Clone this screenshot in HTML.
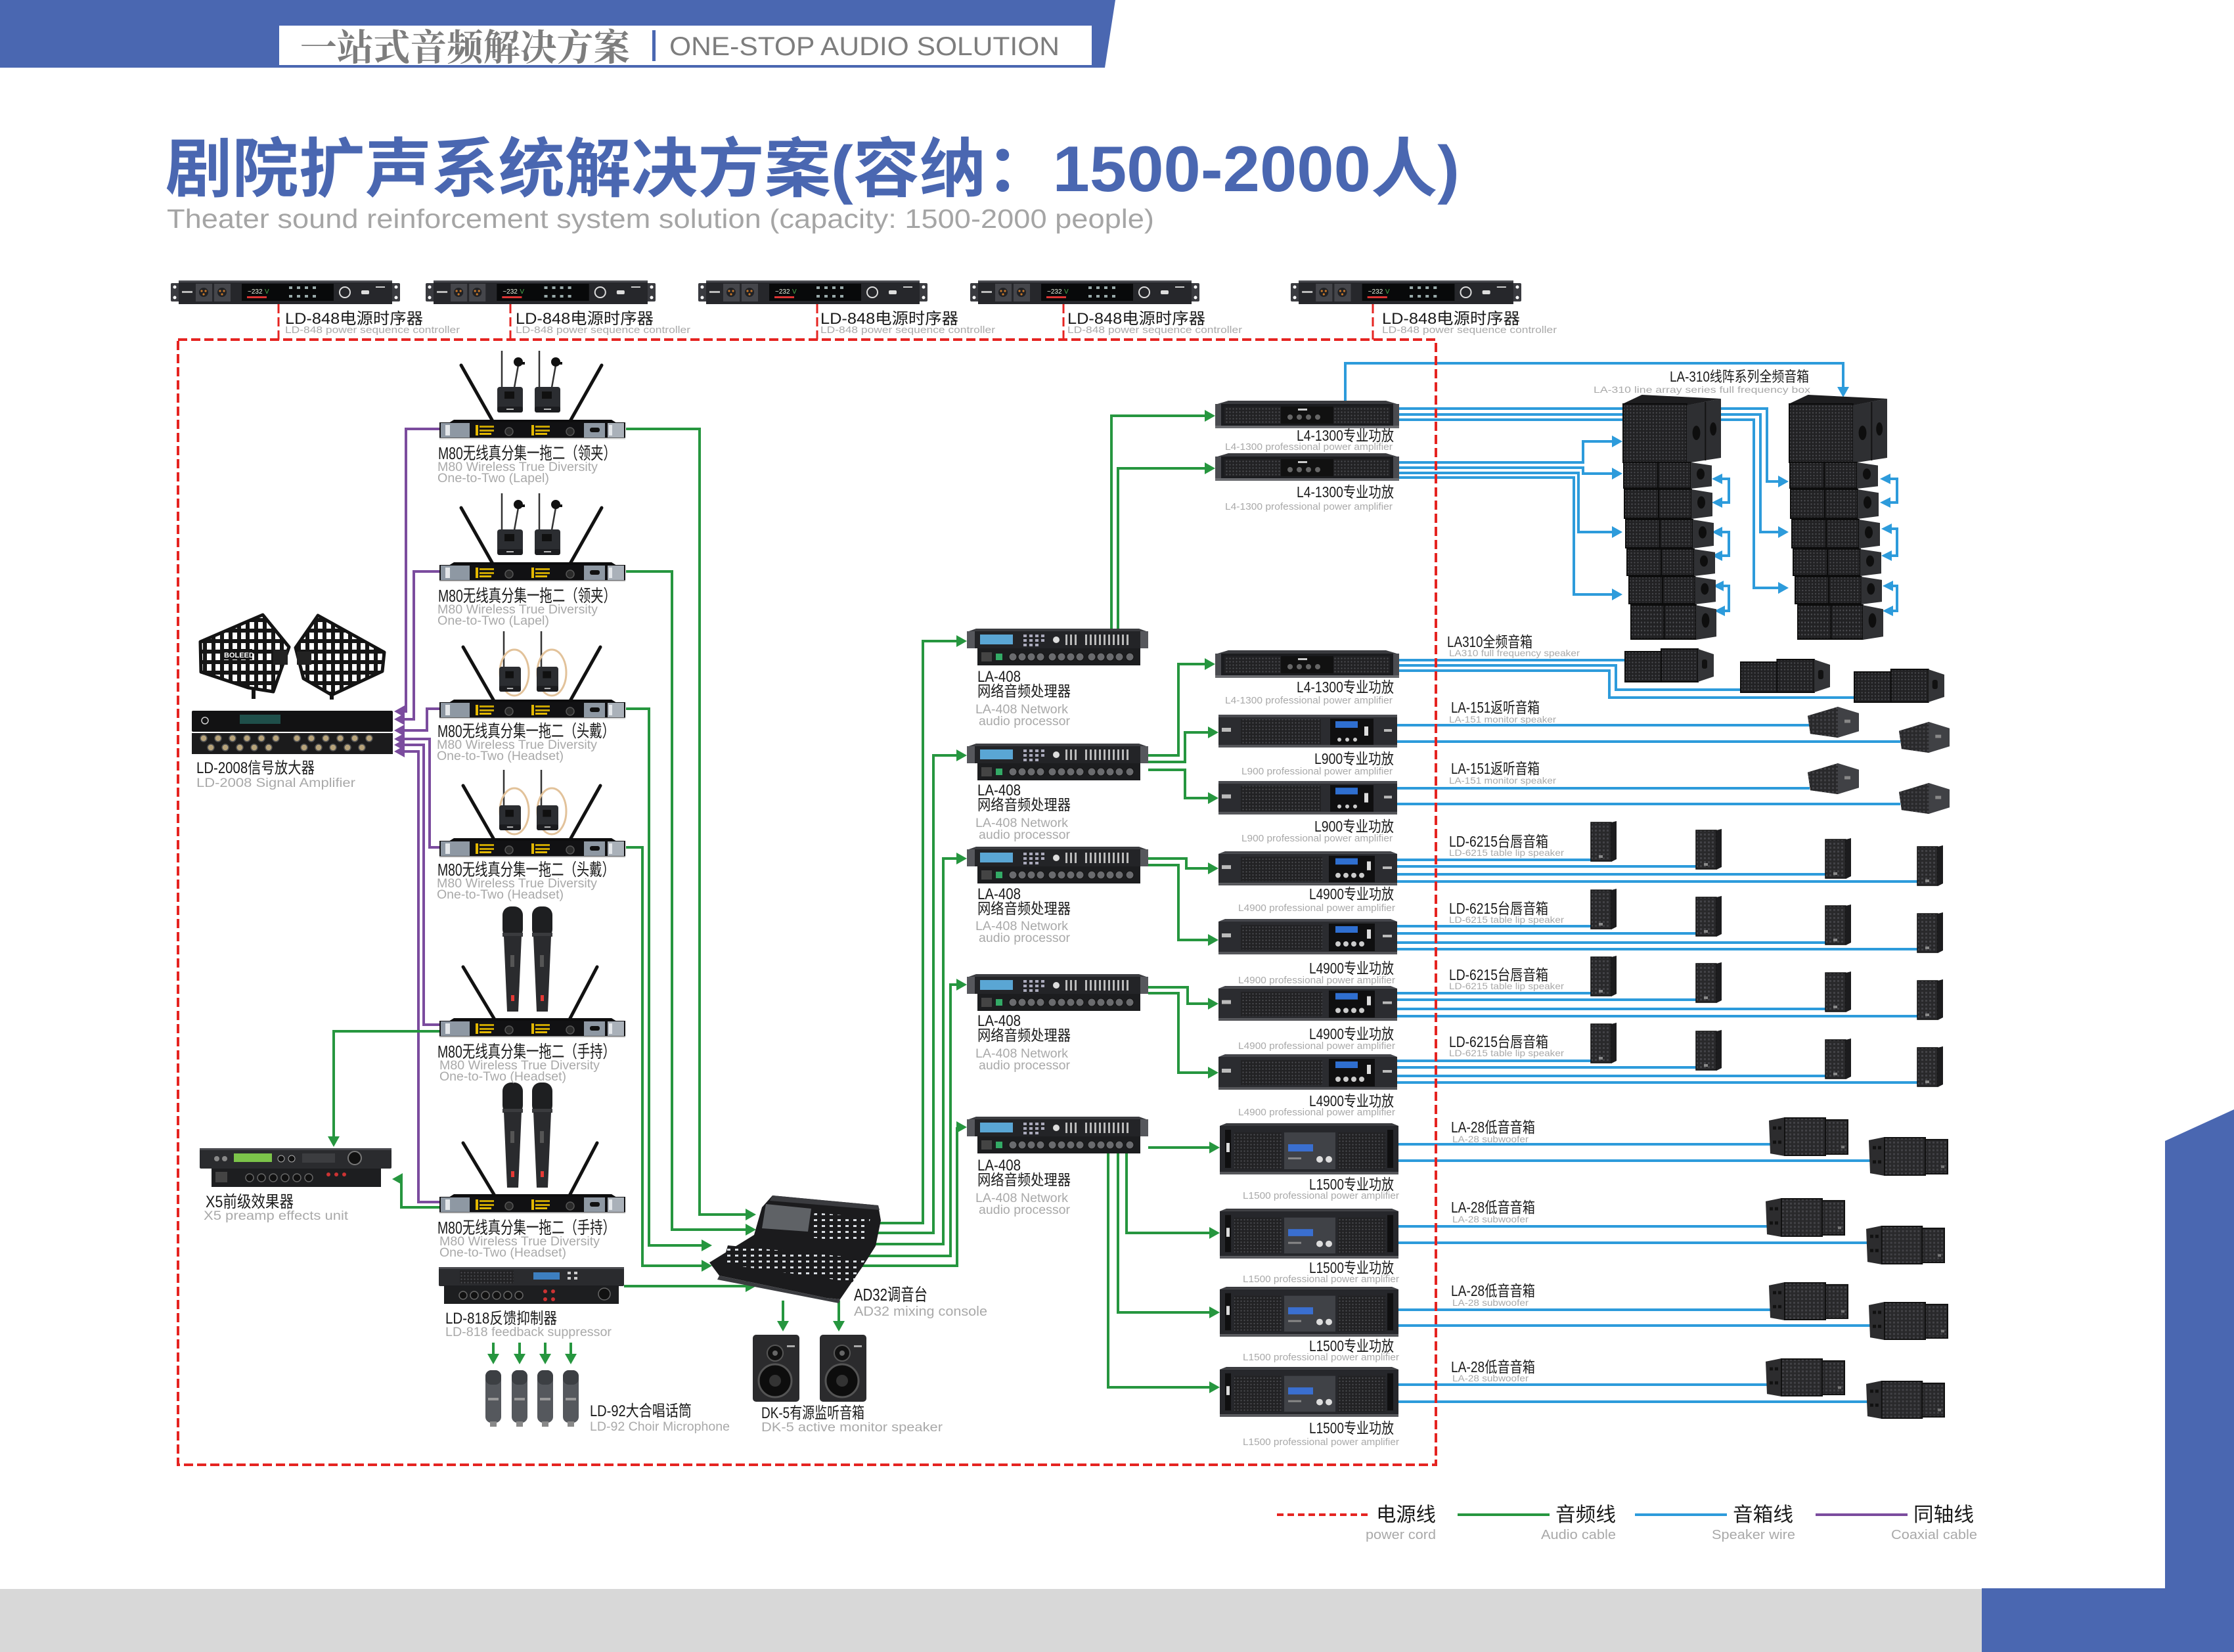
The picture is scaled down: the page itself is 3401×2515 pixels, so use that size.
<!DOCTYPE html>
<html><head><meta charset="utf-8">
<style>
html,body{margin:0;padding:0;background:#fff;}
body{width:3401px;height:2515px;overflow:hidden;position:relative;}
svg{position:absolute;left:0;top:0;}
.cn{font-family:"Liberation Sans","Noto Sans CJK SC",sans-serif;fill:#1a1a1a;}
.en{font-family:"Liberation Sans",sans-serif;fill:#a9a9a9;}
.g{fill:none;stroke:#26963f;stroke-width:4;}
.p{fill:none;stroke:#7b4c9e;stroke-width:4;}
.b{fill:none;stroke:#2d9bdb;stroke-width:4;}
.ga{fill:#26963f;}.pa{fill:#7b4c9e;}.ba{fill:#2d9bdb;}
</style></head><body>
<svg width="3401" height="2515" viewBox="0 0 3401 2515" xmlns="http://www.w3.org/2000/svg">
<defs>
<pattern id="gr" width="5" height="5" patternUnits="userSpaceOnUse"><rect width="5" height="5" fill="#222224"/><circle cx="2.5" cy="2.5" r="1.1" fill="#4d4e52"/></pattern>
<pattern id="gr2" width="6" height="6" patternUnits="userSpaceOnUse"><rect width="6" height="6" fill="#29292b"/><rect x="1" y="1" width="3" height="3" fill="#424246"/></pattern>
<pattern id="antp" width="13" height="16" patternUnits="userSpaceOnUse"><rect width="13" height="16" fill="#161616"/><rect x="3" y="3" width="7" height="10" fill="#fff"/></pattern>
<pattern id="fad" width="12" height="9" patternUnits="userSpaceOnUse"><rect width="12" height="9" fill="#1b1b1d"/><rect x="3" y="2" width="5" height="3" fill="#d9dde2"/></pattern>

<symbol id="ld848" viewBox="0 0 349 36" preserveAspectRatio="none">
 <rect x="0" y="4" width="349" height="28" rx="2" fill="#3a3b40"/>
 <rect x="12" y="0" width="325" height="36" fill="#26272b"/>
 <rect x="12" y="0" width="325" height="3" fill="#48494e"/>
 <circle cx="6" cy="10" r="2.5" fill="#fff"/><circle cx="6" cy="26" r="2.5" fill="#fff"/><circle cx="343" cy="10" r="2.5" fill="#fff"/><circle cx="343" cy="26" r="2.5" fill="#fff"/>
 <rect x="17" y="16" width="16" height="3" fill="#bbb"/>
 <rect x="38" y="5" width="25" height="27" fill="#45464b"/><rect x="66" y="5" width="25" height="27" fill="#45464b"/>
 <circle cx="50" cy="18" r="7" fill="#202124"/><circle cx="78" cy="18" r="7" fill="#202124"/>
 <circle cx="47" cy="16" r="1.6" fill="#c7772a"/><circle cx="53" cy="16" r="1.6" fill="#c7772a"/><circle cx="50" cy="21" r="1.6" fill="#c7772a"/>
 <circle cx="75" cy="16" r="1.6" fill="#c7772a"/><circle cx="81" cy="16" r="1.6" fill="#c7772a"/><circle cx="78" cy="21" r="1.6" fill="#c7772a"/>
 <rect x="108" y="5" width="140" height="26" fill="#08090a"/>
 <text x="117" y="20" font-size="10" fill="#e8f0e0" font-family="Liberation Sans">~232</text><text x="143" y="20" font-size="10" fill="#4caf50" font-family="Liberation Sans">V</text>
 <rect x="116" y="24" width="30" height="3" fill="#d33"/>
 <rect x="180" y="9" width="5" height="4" fill="#9aa"/><rect x="192" y="9" width="5" height="4" fill="#9aa"/><rect x="204" y="9" width="5" height="4" fill="#9aa"/><rect x="216" y="9" width="5" height="4" fill="#9aa"/>
 <rect x="180" y="22" width="5" height="4" fill="#9aa"/><rect x="192" y="22" width="5" height="4" fill="#9aa"/><rect x="204" y="22" width="5" height="4" fill="#9aa"/><rect x="216" y="22" width="5" height="4" fill="#9aa"/>
 <circle cx="265" cy="18" r="8" fill="none" stroke="#ddd" stroke-width="2"/>
 <rect x="290" y="15" width="12" height="6" rx="2" fill="#ddd"/>
 <rect x="312" y="9" width="14" height="2" fill="#ccc"/>
</symbol>

<symbol id="m80" viewBox="0 0 283 30" preserveAspectRatio="none">
 <polygon points="22,0 262,0 270,5 14,5" fill="#0d0d0e"/>
 <rect x="0" y="4" width="283" height="24" fill="#111113"/>
 <rect x="2" y="5" width="44" height="22" fill="#8e98a3"/>
 <rect x="9" y="8" width="7" height="16" fill="#e4e7ea"/>
 <rect x="220" y="5" width="32" height="22" fill="#8e98a3"/>
 <rect x="229" y="12" width="15" height="7" rx="3" fill="#111"/>
 <rect x="256" y="5" width="25" height="22" fill="#aab1b9"/>
 <rect x="258" y="8" width="5" height="16" fill="#e4e7ea"/>
 <rect x="55" y="8" width="4" height="16" fill="#e3b800"/>
 <rect x="61" y="9" width="22" height="3" fill="#c9a400"/><rect x="61" y="15" width="22" height="3" fill="#c9a400"/><rect x="61" y="20" width="18" height="3" fill="#e3b800"/>
 <circle cx="106" cy="18" r="6" fill="#2a2a2a" stroke="#555" stroke-width="1.5"/>
 <rect x="140" y="8" width="4" height="16" fill="#e3b800"/>
 <rect x="146" y="9" width="22" height="3" fill="#c9a400"/><rect x="146" y="15" width="22" height="3" fill="#c9a400"/><rect x="146" y="20" width="18" height="3" fill="#e3b800"/>
 <circle cx="199" cy="18" r="6" fill="#2a2a2a" stroke="#555" stroke-width="1.5"/>
 <rect x="0" y="27" width="283" height="3" fill="#bbb" opacity=".45"/>
</symbol>

<symbol id="la408" viewBox="0 0 276 56" preserveAspectRatio="none">
 <polygon points="14,0 262,0 276,5 0,5" fill="#3b3c40"/>
 <rect x="0" y="4" width="276" height="26" fill="#232427"/>
 <rect x="0" y="4" width="12" height="26" fill="#56575c"/><rect x="264" y="4" width="12" height="26" fill="#56575c"/>
 <rect x="20" y="9" width="50" height="15" fill="#5aa6d4"/>
 <rect x="86" y="9" width="5" height="4" fill="#aab"/><rect x="95" y="9" width="5" height="4" fill="#aab"/><rect x="104" y="9" width="5" height="4" fill="#aab"/><rect x="113" y="9" width="5" height="4" fill="#aab"/>
 <rect x="86" y="16" width="5" height="4" fill="#aab"/><rect x="95" y="16" width="5" height="4" fill="#aab"/><rect x="104" y="16" width="5" height="4" fill="#aab"/><rect x="113" y="16" width="5" height="4" fill="#aab"/>
 <rect x="86" y="23" width="5" height="4" fill="#aab"/><rect x="95" y="23" width="5" height="4" fill="#aab"/><rect x="104" y="23" width="5" height="4" fill="#aab"/>
 <circle cx="136" cy="17" r="5" fill="#ddd"/>
 <rect x="150" y="9" width="3" height="16" fill="#bbb"/><rect x="157" y="9" width="3" height="16" fill="#bbb"/><rect x="164" y="9" width="3" height="16" fill="#bbb"/>
 <rect x="180" y="9" width="3" height="16" fill="#bbb"/><rect x="187" y="9" width="3" height="16" fill="#bbb"/><rect x="194" y="9" width="3" height="16" fill="#bbb"/><rect x="201" y="9" width="3" height="16" fill="#bbb"/><rect x="208" y="9" width="3" height="16" fill="#bbb"/><rect x="215" y="9" width="3" height="16" fill="#bbb"/><rect x="222" y="9" width="3" height="16" fill="#bbb"/><rect x="229" y="9" width="3" height="16" fill="#bbb"/><rect x="236" y="9" width="3" height="16" fill="#bbb"/><rect x="243" y="9" width="3" height="16" fill="#bbb"/>
 <rect x="16" y="30" width="248" height="26" fill="#1c1d1f"/>
 <rect x="22" y="36" width="16" height="14" fill="#444"/>
 <rect x="44" y="38" width="10" height="10" fill="#3a6"/>
 <circle cx="70" cy="43" r="6" fill="#6a6b6e" stroke="#111"/><circle cx="84" cy="43" r="6" fill="#6a6b6e" stroke="#111"/><circle cx="98" cy="43" r="6" fill="#6a6b6e" stroke="#111"/><circle cx="112" cy="43" r="6" fill="#6a6b6e" stroke="#111"/><circle cx="130" cy="43" r="6" fill="#6a6b6e" stroke="#111"/><circle cx="144" cy="43" r="6" fill="#6a6b6e" stroke="#111"/><circle cx="158" cy="43" r="6" fill="#6a6b6e" stroke="#111"/><circle cx="172" cy="43" r="6" fill="#6a6b6e" stroke="#111"/><circle cx="190" cy="43" r="6" fill="#6a6b6e" stroke="#111"/><circle cx="204" cy="43" r="6" fill="#6a6b6e" stroke="#111"/><circle cx="218" cy="43" r="6" fill="#6a6b6e" stroke="#111"/><circle cx="232" cy="43" r="6" fill="#6a6b6e" stroke="#111"/><circle cx="248" cy="43" r="6" fill="#6a6b6e" stroke="#111"/>
</symbol>

<symbol id="l41300" viewBox="0 0 280 42" preserveAspectRatio="none">
 <polygon points="20,0 260,0 280,6 0,6" fill="#3a3b3f"/>
 <rect x="0" y="5" width="280" height="34" fill="#1b1c1f"/>
 <rect x="0" y="5" width="9" height="34" fill="#4a4b50"/><rect x="271" y="5" width="9" height="34" fill="#4a4b50"/>
 <rect x="14" y="9" width="86" height="26" fill="url(#gr)"/>
 <rect x="180" y="9" width="86" height="26" fill="url(#gr)"/>
 <rect x="100" y="9" width="80" height="26" fill="#111"/>
 <circle cx="114" cy="25" r="4" fill="#666"/><circle cx="128" cy="25" r="4" fill="#666"/><circle cx="142" cy="25" r="4" fill="#666"/><circle cx="156" cy="25" r="4" fill="#666"/>
 <rect x="126" y="12" width="14" height="3" fill="#ccc"/>
 <rect x="0" y="38" width="280" height="4" fill="#6b6c70"/>
</symbol>

<symbol id="l900" viewBox="0 0 272 50" preserveAspectRatio="none">
 <rect x="0" y="0" width="272" height="50" fill="#2b2c30"/>
 <rect x="0" y="0" width="272" height="4" fill="#4a4b50"/>
 <rect x="5" y="20" width="14" height="6" fill="#bbb"/>
 <rect x="34" y="7" width="122" height="38" fill="url(#gr)"/>
 <rect x="170" y="6" width="66" height="40" fill="#0f0f10"/>
 <rect x="178" y="10" width="34" height="10" fill="#2f6fd0"/>
 <circle cx="184" cy="38" r="3" fill="#ccc"/><circle cx="196" cy="38" r="3" fill="#ccc"/><circle cx="208" cy="38" r="3" fill="#ccc"/>
 <rect x="222" y="18" width="6" height="14" fill="#ddd"/>
 <rect x="252" y="22" width="12" height="4" fill="#bbb"/>
 <rect x="0" y="46" width="272" height="4" fill="#55565a"/>
</symbol>

<symbol id="l4900" viewBox="0 0 272 54" preserveAspectRatio="none">
 <polygon points="10,0 262,0 272,4 0,4" fill="#45464b"/>
 <rect x="0" y="4" width="272" height="46" fill="#2b2c30"/>
 <rect x="5" y="22" width="14" height="6" fill="#bbb"/>
 <rect x="34" y="9" width="124" height="38" fill="url(#gr)"/>
 <rect x="168" y="7" width="70" height="42" fill="#0f0f10"/>
 <rect x="178" y="11" width="34" height="10" fill="#2f6fd0"/>
 <circle cx="182" cy="38" r="4" fill="#ccc"/><circle cx="194" cy="38" r="4" fill="#ccc"/><circle cx="206" cy="38" r="4" fill="#ccc"/><circle cx="218" cy="38" r="4" fill="#ccc"/>
 <rect x="226" y="16" width="6" height="14" fill="#ddd"/>
 <rect x="250" y="24" width="14" height="4" fill="#bbb"/>
 <rect x="0" y="50" width="272" height="4" fill="#55565a"/>
</symbol>

<symbol id="l1500" viewBox="0 0 272 78" preserveAspectRatio="none">
 <polygon points="10,0 262,0 272,4 0,4" fill="#3a3b3f"/>
 <rect x="0" y="4" width="272" height="70" fill="#26272b"/>
 <rect x="8" y="10" width="9" height="58" fill="#0f0f10"/><rect x="255" y="10" width="9" height="58" fill="#0f0f10"/>
 <rect x="10" y="30" width="5" height="14" fill="#ddd"/>
 <rect x="22" y="14" width="72" height="56" fill="url(#gr)"/>
 <rect x="180" y="14" width="72" height="56" fill="url(#gr)"/>
 <rect x="98" y="14" width="78" height="56" fill="#404247"/>
 <rect x="104" y="32" width="38" height="11" fill="#3a6fd0"/>
 <circle cx="152" cy="55" r="5" fill="#ddd"/><circle cx="166" cy="55" r="5" fill="#ddd"/>
 <rect x="104" y="52" width="20" height="3" fill="#888"/>
 <rect x="0" y="74" width="272" height="4" fill="#55565a"/>
</symbol>

<symbol id="latop" viewBox="0 0 152 104" preserveAspectRatio="none">
 <polygon points="0,14 30,0 152,6 100,16" fill="#1d1d1f"/>
 <rect x="1" y="14" width="98" height="90" fill="url(#gr)" stroke="#0c0c0c" stroke-width="2"/>
 <polygon points="99,16 152,6 152,96 99,104" fill="#2e2f32"/>
 <line x1="128" y1="11" x2="128" y2="100" stroke="#141414" stroke-width="2"/>
 <ellipse cx="114" cy="58" rx="6" ry="11" fill="#0e0e0e"/>
 <ellipse cx="140" cy="52" rx="5" ry="10" fill="#0e0e0e"/>
</symbol>
<symbol id="labx" viewBox="0 0 136 44" preserveAspectRatio="none">
 <rect x="1" y="1" width="52" height="42" fill="url(#gr)" stroke="#0c0c0c" stroke-width="2"/>
 <rect x="53" y="1" width="50" height="42" fill="url(#gr)" stroke="#0c0c0c" stroke-width="2"/>
 <polygon points="103,1 135,6 135,40 103,44" fill="#303134"/>
 <ellipse cx="118" cy="20" rx="6" ry="9" fill="#0e0e0e"/>
</symbol>
<symbol id="la310" viewBox="0 0 136 54" preserveAspectRatio="none">
 <rect x="1" y="6" width="55" height="46" fill="url(#gr)" stroke="#0c0c0c" stroke-width="2"/>
 <rect x="56" y="2" width="56" height="50" fill="url(#gr)" stroke="#0c0c0c" stroke-width="2"/>
 <polygon points="112,2 136,10 136,44 112,52" fill="#333437"/>
 <rect x="118" y="18" width="8" height="14" rx="3" fill="#111"/>
</symbol>
<symbol id="mon" viewBox="0 0 78 48" preserveAspectRatio="none">
 <polygon points="0,14 46,0 78,10 78,38 46,48 4,42" fill="#404145"/>
 <polygon points="0,14 46,0 46,48 4,42" fill="url(#gr2)"/>
 <rect x="56" y="20" width="9" height="5" fill="#888"/>
</symbol>
<symbol id="lip" viewBox="0 0 40 62" preserveAspectRatio="none">
 <rect x="1" y="2" width="31" height="59" fill="url(#gr2)" stroke="#111" stroke-width="1.5"/>
 <polygon points="32,2 40,0 40,58 32,62" fill="#1c1c1e"/>
 <rect x="13" y="52" width="6" height="4" fill="#888"/>
</symbol>
<symbol id="sub" viewBox="0 0 121 60" preserveAspectRatio="none">
 <polygon points="0,5 24,0 24,60 2,56" fill="#2c2c2e"/>
 <rect x="6" y="14" width="5" height="5" fill="#111"/><rect x="14" y="14" width="5" height="5" fill="#111"/><rect x="6" y="36" width="5" height="5" fill="#111"/><rect x="14" y="36" width="5" height="5" fill="#111"/>
 <rect x="24" y="1" width="62" height="58" fill="url(#gr2)" stroke="#111" stroke-width="2"/>
 <rect x="86" y="4" width="34" height="53" fill="url(#gr2)" stroke="#111" stroke-width="2"/>
 <rect x="110" y="44" width="5" height="4" fill="#777"/>
</symbol>
<symbol id="dk5" viewBox="0 0 71 102" preserveAspectRatio="none">
 <rect x="0" y="0" width="71" height="102" rx="5" fill="#2b2b2d"/>
 <circle cx="34" cy="28" r="12" fill="#111" stroke="#555" stroke-width="2"/>
 <circle cx="34" cy="28" r="4" fill="#666"/>
 <circle cx="34" cy="70" r="25" fill="#0d0d0d" stroke="#555" stroke-width="3"/>
 <circle cx="34" cy="70" r="9" fill="#333"/>
 <rect x="52" y="16" width="12" height="3" fill="#aaa"/>
</symbol>
<symbol id="lapelpack" viewBox="0 0 39 39" preserveAspectRatio="none">
 <rect x="0" y="0" width="39" height="39" rx="4" fill="#2b2d31"/>
 <rect x="0" y="30" width="39" height="9" rx="3" fill="#1b1c1f"/>
 <rect x="11" y="7" width="15" height="11" fill="#101010"/>
 <rect x="14" y="33" width="11" height="2" fill="#bbb"/>
</symbol>
<symbol id="hmic" viewBox="0 0 31 160" preserveAspectRatio="none">
 <rect x="0" y="0" width="31" height="48" rx="13" fill="#1e1f21"/>
 <rect x="0" y="40" width="31" height="6" fill="#3a3b3e"/>
 <polygon points="2,45 29,45 24,160 7,160" fill="#2a2b2e"/>
 <rect x="12" y="74" width="6" height="18" fill="#555"/>
 <rect x="13" y="135" width="5" height="9" fill="#e53935"/>
</symbol>
</defs>

<!-- header -->
<polygon points="0,0 1698,0 1682,103 0,103" fill="#4a67b1"/>
<rect x="425" y="39" width="1237" height="60" fill="#fff"/>
<text x="457" y="92" font-family="'Noto Serif CJK SC','Liberation Serif',serif" font-weight="700" font-size="56" fill="#7d7d7d" textLength="502" lengthAdjust="spacingAndGlyphs">一站式音频解决方案</text>
<rect x="993" y="46" width="5" height="47" fill="#4a67b1"/>
<text x="1019" y="84" font-family="'Liberation Sans',sans-serif" font-size="40" fill="#7d7d7d" textLength="594" lengthAdjust="spacingAndGlyphs">ONE-STOP AUDIO SOLUTION</text>

<!-- title -->
<text x="252" y="291" font-family="'Liberation Sans','Noto Sans CJK SC',sans-serif" font-weight="700" font-size="98" fill="#4a67b1" textLength="1970" lengthAdjust="spacingAndGlyphs">剧院扩声系统解决方案(容纳：1500-2000人)</text>
<text x="254" y="347" font-family="'Liberation Sans',sans-serif" font-size="41" fill="#a5a5a5" textLength="1503" lengthAdjust="spacingAndGlyphs">Theater sound reinforcement system solution (capacity: 1500-2000 people)</text>

<!-- power sequencers -->
<use href="#ld848" x="260" y="427" width="349" height="36"/>
<use href="#ld848" x="648" y="427" width="350" height="36"/>
<use href="#ld848" x="1063" y="427" width="349" height="36"/>
<use href="#ld848" x="1477" y="427" width="349" height="36"/>
<use href="#ld848" x="1965" y="427" width="351" height="36"/>
<g stroke="#e52421" stroke-width="3" stroke-dasharray="14 6" fill="none">
<path d="M424 463V517M777 463V517M1244 463V517M1619 463V517M2090 463V517"/>
</g>
<g class="cn" font-size="24">
<text x="434" y="493" textLength="210" lengthAdjust="spacingAndGlyphs">LD-848电源时序器</text>
<text x="785" y="493" textLength="210" lengthAdjust="spacingAndGlyphs">LD-848电源时序器</text>
<text x="1249" y="493" textLength="210" lengthAdjust="spacingAndGlyphs">LD-848电源时序器</text>
<text x="1625" y="493" textLength="210" lengthAdjust="spacingAndGlyphs">LD-848电源时序器</text>
<text x="2104" y="493" textLength="210" lengthAdjust="spacingAndGlyphs">LD-848电源时序器</text>
</g>
<g class="en" font-size="15">
<text x="434" y="507" textLength="266" lengthAdjust="spacingAndGlyphs">LD-848 power sequence controller</text>
<text x="785" y="507" textLength="266" lengthAdjust="spacingAndGlyphs">LD-848 power sequence controller</text>
<text x="1249" y="507" textLength="266" lengthAdjust="spacingAndGlyphs">LD-848 power sequence controller</text>
<text x="1625" y="507" textLength="266" lengthAdjust="spacingAndGlyphs">LD-848 power sequence controller</text>
<text x="2104" y="507" textLength="266" lengthAdjust="spacingAndGlyphs">LD-848 power sequence controller</text>
</g>

<!-- ===== connection lines ===== -->
<path class="p" d="M669 653H618V1083H614M669 870H630V1095H614M669 1079H650V1112H614M669 1290H654V1125H614M669 1560H645V1134H614M669 1830H637V1144H614"/>
<g class="pa">
<polygon points="600,1083 616,1074 616,1092"/><polygon points="600,1095 616,1086 616,1104"/><polygon points="600,1112 616,1103 616,1121"/><polygon points="600,1125 616,1116 616,1134"/><polygon points="600,1134 616,1125 616,1143"/><polygon points="600,1144 616,1135 616,1153"/>
</g>
<path class="g" d="M953 653H1065V1849H1137M953 870H1023V1872H1137M953 1079H988V1896H1070M953 1290H978V1927H1070M669 1570H508V1732M669 1838H611V1795H611M950 1958H1137M751 2044V2063M791 2044V2063M830 2044V2063M869 2044V2063M1338 1862H1405V976H1458M1336 1877H1421V1150H1458M1330 1894H1436V1307H1458M1318 1912H1447V1499H1458M1300 1927H1457V1716M1192 1980V2013M1277 1980V2013M1692 957V633H1836M1702 957V713H1836M1748 1150H1794V1011H1836M1748 1160H1804V1115H1841M1748 1172H1804V1215H1841M1748 1307H1806V1322H1841M1748 1317H1794V1431H1841M1748 1503H1808V1528H1841M1748 1512H1794V1633H1841M1748 1747H1843M1715 1756V1877H1843M1702 1756V1998H1843M1687 1756V2112H1843"/>
<g class="ga">
<polygon points="1151,1849 1135,1840 1135,1858"/><polygon points="1151,1872 1135,1863 1135,1881"/><polygon points="1084,1896 1068,1887 1068,1905"/><polygon points="1084,1927 1068,1918 1068,1936"/><polygon points="1151,1958 1135,1949 1135,1967"/>
<polygon points="1472,976 1456,967 1456,985"/><polygon points="1472,1150 1456,1141 1456,1159"/><polygon points="1472,1307 1456,1298 1456,1316"/><polygon points="1472,1499 1456,1490 1456,1508"/><polygon points="1472,1716 1456,1707 1456,1725"/>
<polygon points="1850,633 1834,624 1834,642"/><polygon points="1850,713 1834,704 1834,722"/><polygon points="1850,1011 1834,1002 1834,1020"/><polygon points="1855,1115 1839,1106 1839,1124"/><polygon points="1855,1215 1839,1206 1839,1224"/><polygon points="1855,1322 1839,1313 1839,1331"/><polygon points="1855,1431 1839,1422 1839,1440"/><polygon points="1855,1528 1839,1519 1839,1537"/><polygon points="1855,1633 1839,1624 1839,1642"/><polygon points="1857,1747 1841,1738 1841,1756"/><polygon points="1857,1877 1841,1868 1841,1886"/><polygon points="1857,1998 1841,1989 1841,2007"/><polygon points="1857,2112 1841,2103 1841,2121"/>
<polygon points="508,1746 499,1730 517,1730"/><polygon points="751,2077 742,2061 760,2061"/><polygon points="791,2077 782,2061 800,2061"/><polygon points="830,2077 821,2061 839,2061"/><polygon points="869,2077 860,2061 878,2061"/><polygon points="1192,2027 1183,2011 1201,2011"/><polygon points="1277,2027 1268,2011 1286,2011"/>
<polygon points="597,1795 613,1786 613,1804"/>
</g>
<path class="b" d="M2048 612V553H2806V591M2130 622H2690V733H2709M2130 631H2680V810H2709M2130 639H2670V895H2709M2130 704H2410V672H2456M2130 712H2410V721H2456M2130 720H2403V810H2456M2130 727H2396V905H2456M2620 729H2632V765H2620M2620 810H2632V846H2620M2620 892H2632V930H2620M2878 729H2888V765H2878M2878 805H2888V846H2878M2878 892H2888V930H2878M2130 1005H2475M2130 1013H2460V1050H2651M2130 1021H2450V1062H2824M2127 1104H2755M2127 1129H2893M2127 1200H2755M2127 1224H2893M2127 1309H2423M2127 1319H2583M2127 1331H2780M2127 1342H2920M2127 1410H2423M2127 1421H2583M2127 1435H2780M2127 1445H2920M2127 1512H2423M2127 1522H2583M2127 1536H2780M2127 1547H2920M2127 1615H2423M2127 1625H2583M2127 1638H2780M2127 1648H2920M2129 1742H2695M2129 1767H2847M2129 1867H2690M2129 1892H2843M2129 1994H2695M2129 2018H2847M2129 2108H2690M2129 2134H2843"/>
<g class="ba">
<polygon points="2806,605 2797,589 2815,589"/>
<polygon points="2723,733 2707,724 2707,742"/><polygon points="2723,810 2707,801 2707,819"/><polygon points="2723,895 2707,886 2707,904"/>
<polygon points="2470,672 2454,663 2454,681"/><polygon points="2470,721 2454,712 2454,730"/><polygon points="2470,810 2454,801 2454,819"/><polygon points="2470,905 2454,896 2454,914"/>
<polygon points="2606,729 2622,721 2622,737"/><polygon points="2606,765 2622,757 2622,773"/><polygon points="2606,810 2622,802 2622,818"/><polygon points="2606,846 2622,838 2622,854"/><polygon points="2608,892 2624,884 2624,900"/><polygon points="2610,930 2626,922 2626,938"/>
<polygon points="2862,729 2878,721 2878,737"/><polygon points="2862,765 2878,757 2878,773"/><polygon points="2864,805 2880,797 2880,813"/><polygon points="2864,846 2880,838 2880,854"/><polygon points="2866,892 2882,884 2882,900"/><polygon points="2866,930 2882,922 2882,938"/>
</g>

<!-- red dashed boundary -->
<rect x="271" y="517" width="1915" height="1713" fill="none" stroke="#e52421" stroke-width="4" stroke-dasharray="14 6"/>

<!-- ===== left devices ===== -->
<polygon points="305,977 400,936 440,985 416,1053 378,1047 306,1023" fill="url(#antp)" stroke="#141414" stroke-width="5" stroke-linejoin="round"/>
<polygon points="450,986 484,937 585,993 582,1022 505,1058 462,1033" fill="url(#antp)" stroke="#141414" stroke-width="5" stroke-linejoin="round"/>
<rect x="338" y="988" width="46" height="16" fill="#141414"/>
<text x="341" y="1001" font-family="'Liberation Sans',sans-serif" font-weight="700" font-size="11" fill="#fff">BOLEED</text>
<rect x="416" y="990" width="22" height="22" fill="#222"/>
<rect x="452" y="992" width="22" height="20" fill="#222"/>
<line x1="386" y1="1050" x2="386" y2="1064" stroke="#141414" stroke-width="6"/>
<line x1="505" y1="1056" x2="505" y2="1065" stroke="#141414" stroke-width="6"/>
<rect x="292" y="1082" width="306" height="32" rx="2" fill="#121213"/>
<rect x="365" y="1088" width="62" height="14" fill="#1f4f4a"/>
<circle cx="312" cy="1097" r="5" fill="none" stroke="#ccc" stroke-width="1.5"/>
<rect x="292" y="1116" width="306" height="32" fill="#1b1b1c"/>
<g fill="#b7a37a" stroke="#555" stroke-width="1.5">
<circle cx="310" cy="1124" r="5"/><circle cx="332" cy="1124" r="5"/><circle cx="354" cy="1124" r="5"/><circle cx="376" cy="1124" r="5"/><circle cx="398" cy="1124" r="5"/><circle cx="420" cy="1124" r="5"/><circle cx="452" cy="1124" r="5"/><circle cx="474" cy="1124" r="5"/><circle cx="496" cy="1124" r="5"/><circle cx="518" cy="1124" r="5"/><circle cx="540" cy="1124" r="5"/><circle cx="562" cy="1124" r="5"/>
<circle cx="321" cy="1138" r="5"/><circle cx="343" cy="1138" r="5"/><circle cx="365" cy="1138" r="5"/><circle cx="387" cy="1138" r="5"/><circle cx="409" cy="1138" r="5"/><circle cx="463" cy="1138" r="5"/><circle cx="485" cy="1138" r="5"/><circle cx="507" cy="1138" r="5"/><circle cx="529" cy="1138" r="5"/><circle cx="551" cy="1138" r="5"/>
</g>
<text class="cn" x="299" y="1177" font-size="24" textLength="180" lengthAdjust="spacingAndGlyphs">LD-2008信号放大器</text>
<text class="en" x="299" y="1198" font-size="19" textLength="242" lengthAdjust="spacingAndGlyphs">LD-2008 Signal Amplifier</text>

<g stroke="#121212" stroke-width="5" stroke-linecap="round">
<line x1="702" y1="556" x2="750" y2="641"/><line x1="916" y1="556" x2="868" y2="641"/>
<line x1="702" y1="773" x2="750" y2="858"/><line x1="916" y1="773" x2="868" y2="858"/>
<line x1="705" y1="985" x2="752" y2="1067"/><line x1="914" y1="985" x2="868" y2="1067"/>
<line x1="705" y1="1196" x2="752" y2="1278"/><line x1="914" y1="1196" x2="868" y2="1278"/>
<line x1="705" y1="1472" x2="753" y2="1552"/><line x1="909" y1="1472" x2="867" y2="1552"/>
<line x1="705" y1="1740" x2="753" y2="1820"/><line x1="909" y1="1740" x2="867" y2="1820"/>
</g>
<g stroke="#333" stroke-width="2.5">
<line x1="764" y1="534" x2="764" y2="590"/><line x1="821" y1="534" x2="821" y2="590"/>
<line x1="764" y1="751" x2="764" y2="807"/><line x1="821" y1="751" x2="821" y2="807"/>
<line x1="789" y1="556" x2="783" y2="590"/><line x1="846" y1="556" x2="840" y2="590"/>
<line x1="789" y1="773" x2="783" y2="807"/><line x1="846" y1="773" x2="840" y2="807"/>
</g>
<g fill="#111"><circle cx="789" cy="551" r="7"/><circle cx="846" cy="551" r="7"/><circle cx="789" cy="768" r="7"/><circle cx="846" cy="768" r="7"/>
<rect x="787" y="551" width="12" height="4"/><rect x="844" y="551" width="12" height="4"/><rect x="787" y="768" width="12" height="4"/><rect x="844" y="768" width="12" height="4"/></g>
<use href="#lapelpack" x="757" y="589" width="39" height="39"/><use href="#lapelpack" x="814" y="589" width="39" height="39"/>
<use href="#lapelpack" x="757" y="806" width="39" height="39"/><use href="#lapelpack" x="814" y="806" width="39" height="39"/>
<g stroke="#333" stroke-width="2.5">
<line x1="767" y1="961" x2="767" y2="1016"/><line x1="824" y1="961" x2="824" y2="1016"/>
<line x1="767" y1="1172" x2="767" y2="1227"/><line x1="824" y1="1172" x2="824" y2="1227"/>
</g>
<g fill="none" stroke="#e2c29a" stroke-width="3">
<ellipse cx="783" cy="1024" rx="22" ry="35"/><ellipse cx="840" cy="1024" rx="22" ry="35"/>
<ellipse cx="783" cy="1235" rx="22" ry="35"/><ellipse cx="840" cy="1235" rx="22" ry="35"/>
</g>
<use href="#lapelpack" x="760" y="1015" width="33" height="38"/><use href="#lapelpack" x="817" y="1015" width="33" height="38"/>
<use href="#lapelpack" x="760" y="1226" width="33" height="38"/><use href="#lapelpack" x="817" y="1226" width="33" height="38"/>
<use href="#hmic" x="765" y="1380" width="31" height="160"/><use href="#hmic" x="810" y="1380" width="31" height="160"/>
<use href="#hmic" x="765" y="1648" width="31" height="160"/><use href="#hmic" x="810" y="1648" width="31" height="160"/>
<use href="#m80" x="669" y="639" width="283" height="30"/>
<use href="#m80" x="669" y="856" width="283" height="30"/>
<use href="#m80" x="669" y="1065" width="283" height="30"/>
<use href="#m80" x="669" y="1276" width="283" height="30"/>
<use href="#m80" x="669" y="1550" width="283" height="30"/>
<use href="#m80" x="669" y="1818" width="283" height="30"/>
<g class="cn" font-size="26">
<text x="667" y="699" textLength="271" lengthAdjust="spacingAndGlyphs">M80无线真分集一拖二（领夹）</text>
<text x="667" y="916" textLength="271" lengthAdjust="spacingAndGlyphs">M80无线真分集一拖二（领夹）</text>
<text x="666" y="1122" textLength="270" lengthAdjust="spacingAndGlyphs">M80无线真分集一拖二（头戴）</text>
<text x="666" y="1333" textLength="270" lengthAdjust="spacingAndGlyphs">M80无线真分集一拖二（头戴）</text>
<text x="666" y="1610" textLength="271" lengthAdjust="spacingAndGlyphs">M80无线真分集一拖二（手持）</text>
<text x="666" y="1878" textLength="271" lengthAdjust="spacingAndGlyphs">M80无线真分集一拖二（手持）</text>
</g>
<g class="en" font-size="19">
<text x="666" y="717" textLength="244" lengthAdjust="spacingAndGlyphs">M80 Wireless True Diversity</text>
<text x="666" y="734" textLength="170" lengthAdjust="spacingAndGlyphs">One-to-Two (Lapel)</text>
<text x="666" y="934" textLength="244" lengthAdjust="spacingAndGlyphs">M80 Wireless True Diversity</text>
<text x="666" y="951" textLength="170" lengthAdjust="spacingAndGlyphs">One-to-Two (Lapel)</text>
<text x="665" y="1140" textLength="244" lengthAdjust="spacingAndGlyphs">M80 Wireless True Diversity</text>
<text x="665" y="1157" textLength="193" lengthAdjust="spacingAndGlyphs">One-to-Two (Headset)</text>
<text x="665" y="1351" textLength="244" lengthAdjust="spacingAndGlyphs">M80 Wireless True Diversity</text>
<text x="665" y="1368" textLength="193" lengthAdjust="spacingAndGlyphs">One-to-Two (Headset)</text>
<text x="669" y="1628" textLength="244" lengthAdjust="spacingAndGlyphs">M80 Wireless True Diversity</text>
<text x="669" y="1645" textLength="193" lengthAdjust="spacingAndGlyphs">One-to-Two (Headset)</text>
<text x="669" y="1896" textLength="244" lengthAdjust="spacingAndGlyphs">M80 Wireless True Diversity</text>
<text x="669" y="1913" textLength="193" lengthAdjust="spacingAndGlyphs">One-to-Two (Headset)</text>
</g>

<!-- X5 -->
<rect x="304" y="1748" width="292" height="31" rx="2" fill="#2a2b2e"/>
<rect x="304" y="1748" width="292" height="3" fill="#48494e"/>
<rect x="356" y="1756" width="58" height="13" fill="#7cc44a"/>
<circle cx="330" cy="1764" r="4" fill="#888"/><circle cx="342" cy="1764" r="4" fill="#888"/>
<circle cx="428" cy="1764" r="5" fill="#111" stroke="#aaa"/><circle cx="444" cy="1764" r="5" fill="#111" stroke="#aaa"/>
<rect x="460" y="1756" width="50" height="14" fill="#3c3d40"/>
<circle cx="540" cy="1763" r="10" fill="#111" stroke="#777" stroke-width="2"/>
<rect x="322" y="1779" width="258" height="28" fill="#1d1e20"/>
<rect x="328" y="1784" width="18" height="16" fill="#444"/>
<g fill="#111" stroke="#666" stroke-width="1.5"><circle cx="380" cy="1793" r="6"/><circle cx="398" cy="1793" r="6"/><circle cx="416" cy="1793" r="6"/><circle cx="434" cy="1793" r="6"/><circle cx="452" cy="1793" r="6"/><circle cx="470" cy="1793" r="6"/></g>
<g fill="#c33"><circle cx="500" cy="1788" r="3"/><circle cx="512" cy="1788" r="3"/><circle cx="524" cy="1788" r="3"/></g>
<text class="cn" x="313" y="1838" font-size="25" textLength="134" lengthAdjust="spacingAndGlyphs">X5前级效果器</text>
<text class="en" x="310" y="1857" font-size="19" textLength="220" lengthAdjust="spacingAndGlyphs">X5 preamp effects unit</text>

<!-- LD-818 -->
<rect x="668" y="1929" width="282" height="29" rx="2" fill="#2a2b2e"/>
<rect x="668" y="1929" width="282" height="3" fill="#4a4b50"/>
<rect x="700" y="1934" width="82" height="20" fill="url(#gr)"/>
<rect x="812" y="1937" width="40" height="11" fill="#3d7fc0"/>
<g fill="#ccc"><rect x="864" y="1936" width="5" height="4"/><rect x="874" y="1936" width="5" height="4"/><rect x="864" y="1944" width="5" height="4"/><rect x="874" y="1944" width="5" height="4"/></g>
<rect x="676" y="1957" width="266" height="28" fill="#1d1e20"/>
<g fill="#111" stroke="#666" stroke-width="1.5"><circle cx="705" cy="1972" r="6"/><circle cx="722" cy="1972" r="6"/><circle cx="739" cy="1972" r="6"/><circle cx="756" cy="1972" r="6"/><circle cx="773" cy="1972" r="6"/><circle cx="790" cy="1972" r="6"/><circle cx="920" cy="1970" r="9"/></g>
<g fill="#c33"><circle cx="830" cy="1966" r="3"/><circle cx="842" cy="1966" r="3"/><circle cx="830" cy="1978" r="3"/><circle cx="842" cy="1978" r="3"/></g>
<text class="cn" x="678" y="2015" font-size="24" textLength="170" lengthAdjust="spacingAndGlyphs">LD-818反馈抑制器</text>
<text class="en" x="678" y="2034" font-size="19" textLength="253" lengthAdjust="spacingAndGlyphs">LD-818 feedback suppressor</text>

<!-- LD-92 mics -->
<g>
<rect x="739" y="2086" width="24" height="80" rx="9" fill="#55585d"/><rect x="739" y="2086" width="24" height="22" rx="9" fill="#3c3f43"/><rect x="743" y="2128" width="16" height="4" fill="#999"/><rect x="746" y="2164" width="10" height="8" fill="#888"/>
<rect x="779" y="2086" width="24" height="80" rx="9" fill="#55585d"/><rect x="779" y="2086" width="24" height="22" rx="9" fill="#3c3f43"/><rect x="783" y="2128" width="16" height="4" fill="#999"/><rect x="786" y="2164" width="10" height="8" fill="#888"/>
<rect x="818" y="2086" width="24" height="80" rx="9" fill="#55585d"/><rect x="818" y="2086" width="24" height="22" rx="9" fill="#3c3f43"/><rect x="822" y="2128" width="16" height="4" fill="#999"/><rect x="825" y="2164" width="10" height="8" fill="#888"/>
<rect x="857" y="2086" width="24" height="80" rx="9" fill="#55585d"/><rect x="857" y="2086" width="24" height="22" rx="9" fill="#3c3f43"/><rect x="861" y="2128" width="16" height="4" fill="#999"/><rect x="864" y="2164" width="10" height="8" fill="#888"/>
</g>
<text class="cn" x="898" y="2156" font-size="24" textLength="155" lengthAdjust="spacingAndGlyphs">LD-92大合唱话筒</text>
<text class="en" x="898" y="2178" font-size="19" textLength="213" lengthAdjust="spacingAndGlyphs">LD-92 Choir Microphone</text>

<!-- console -->
<polygon points="1176,1820 1337,1835 1341,1858 1333,1897 1314,1927 1279,1978 1258,1976 1095,1942 1080,1922 1148,1880 1160,1838" fill="#1b1b1d"/>
<polygon points="1176,1820 1337,1835 1339,1842 1172,1828" fill="#3a3b3f"/>
<polygon points="1166,1833 1235,1840 1230,1875 1160,1870" fill="#5f6266"/>
<polygon points="1240,1846 1325,1854 1318,1892 1232,1884" fill="url(#fad)"/>
<polygon points="1108,1896 1318,1916 1298,1952 1100,1924" fill="url(#fad)"/>
<polygon points="1095,1942 1258,1976 1279,1978 1277,1984 1092,1948" fill="#3a3b3f"/>
<text class="cn" x="1300" y="1980" font-size="26" textLength="112" lengthAdjust="spacingAndGlyphs">AD32调音台</text>
<text class="en" x="1300" y="2003" font-size="20" textLength="203" lengthAdjust="spacingAndGlyphs">AD32 mixing console</text>

<!-- DK-5 -->
<use href="#dk5" x="1146" y="2032" width="71" height="102"/>
<use href="#dk5" x="1248" y="2032" width="71" height="102"/>
<text class="cn" x="1159" y="2159" font-size="24" textLength="157" lengthAdjust="spacingAndGlyphs">DK-5有源监听音箱</text>
<text class="en" x="1159" y="2179" font-size="19" textLength="276" lengthAdjust="spacingAndGlyphs">DK-5 active monitor speaker</text>

<!-- ===== processors ===== -->
<use href="#la408" x="1472" y="957" width="276" height="56"/>
<use href="#la408" x="1472" y="1132" width="276" height="56"/>
<use href="#la408" x="1472" y="1289" width="276" height="56"/>
<use href="#la408" x="1472" y="1483" width="276" height="56"/>
<use href="#la408" x="1472" y="1700" width="276" height="56"/>
<g class="cn">
<text x="1488" y="1038" font-size="24" textLength="66" lengthAdjust="spacingAndGlyphs">LA-408</text>
<text x="1488" y="1060" font-size="23" textLength="142" lengthAdjust="spacingAndGlyphs">网络音频处理器</text>
<text x="1488" y="1211" font-size="24" textLength="66" lengthAdjust="spacingAndGlyphs">LA-408</text>
<text x="1488" y="1233" font-size="23" textLength="142" lengthAdjust="spacingAndGlyphs">网络音频处理器</text>
<text x="1488" y="1369" font-size="24" textLength="66" lengthAdjust="spacingAndGlyphs">LA-408</text>
<text x="1488" y="1391" font-size="23" textLength="142" lengthAdjust="spacingAndGlyphs">网络音频处理器</text>
<text x="1488" y="1562" font-size="24" textLength="66" lengthAdjust="spacingAndGlyphs">LA-408</text>
<text x="1488" y="1584" font-size="23" textLength="142" lengthAdjust="spacingAndGlyphs">网络音频处理器</text>
<text x="1488" y="1782" font-size="24" textLength="66" lengthAdjust="spacingAndGlyphs">LA-408</text>
<text x="1488" y="1804" font-size="23" textLength="142" lengthAdjust="spacingAndGlyphs">网络音频处理器</text>
</g>
<g class="en" font-size="19">
<text x="1485" y="1086" textLength="141" lengthAdjust="spacingAndGlyphs">LA-408 Network</text>
<text x="1490" y="1104" textLength="139" lengthAdjust="spacingAndGlyphs">audio processor</text>
<text x="1485" y="1259" textLength="141" lengthAdjust="spacingAndGlyphs">LA-408 Network</text>
<text x="1490" y="1277" textLength="139" lengthAdjust="spacingAndGlyphs">audio processor</text>
<text x="1485" y="1416" textLength="141" lengthAdjust="spacingAndGlyphs">LA-408 Network</text>
<text x="1490" y="1434" textLength="139" lengthAdjust="spacingAndGlyphs">audio processor</text>
<text x="1485" y="1610" textLength="141" lengthAdjust="spacingAndGlyphs">LA-408 Network</text>
<text x="1490" y="1628" textLength="139" lengthAdjust="spacingAndGlyphs">audio processor</text>
<text x="1485" y="1830" textLength="141" lengthAdjust="spacingAndGlyphs">LA-408 Network</text>
<text x="1490" y="1848" textLength="139" lengthAdjust="spacingAndGlyphs">audio processor</text>
</g>

<!-- ===== amplifiers ===== -->
<use href="#l41300" x="1850" y="610" width="280" height="42"/>
<use href="#l41300" x="1850" y="690" width="280" height="42"/>
<use href="#l41300" x="1850" y="990" width="280" height="42"/>
<use href="#l900" x="1855" y="1088" width="272" height="50"/>
<use href="#l900" x="1855" y="1189" width="272" height="51"/>
<use href="#l4900" x="1855" y="1296" width="272" height="52"/>
<use href="#l4900" x="1855" y="1399" width="272" height="54"/>
<use href="#l4900" x="1855" y="1501" width="272" height="53"/>
<use href="#l4900" x="1855" y="1605" width="272" height="54"/>
<use href="#l1500" x="1857" y="1710" width="272" height="78"/>
<use href="#l1500" x="1857" y="1840" width="272" height="76"/>
<use href="#l1500" x="1857" y="1959" width="272" height="76"/>
<use href="#l1500" x="1857" y="2081" width="272" height="76"/>
<g class="cn" font-size="23">
<text x="1974" y="671" textLength="148" lengthAdjust="spacingAndGlyphs">L4-1300专业功放</text>
<text x="1974" y="757" textLength="148" lengthAdjust="spacingAndGlyphs">L4-1300专业功放</text>
<text x="1974" y="1054" textLength="148" lengthAdjust="spacingAndGlyphs">L4-1300专业功放</text>
<text x="2001" y="1163" textLength="121" lengthAdjust="spacingAndGlyphs">L900专业功放</text>
<text x="2001" y="1266" textLength="121" lengthAdjust="spacingAndGlyphs">L900专业功放</text>
<text x="1993" y="1369" textLength="129" lengthAdjust="spacingAndGlyphs">L4900专业功放</text>
<text x="1993" y="1482" textLength="129" lengthAdjust="spacingAndGlyphs">L4900专业功放</text>
<text x="1993" y="1582" textLength="129" lengthAdjust="spacingAndGlyphs">L4900专业功放</text>
<text x="1993" y="1684" textLength="129" lengthAdjust="spacingAndGlyphs">L4900专业功放</text>
<text x="1993" y="1811" textLength="129" lengthAdjust="spacingAndGlyphs">L1500专业功放</text>
<text x="1993" y="1938" textLength="129" lengthAdjust="spacingAndGlyphs">L1500专业功放</text>
<text x="1993" y="2057" textLength="129" lengthAdjust="spacingAndGlyphs">L1500专业功放</text>
<text x="1993" y="2182" textLength="129" lengthAdjust="spacingAndGlyphs">L1500专业功放</text>
</g>
<g class="en" font-size="15">
<text x="1865" y="685" textLength="255" lengthAdjust="spacingAndGlyphs">L4-1300 professional power amplifier</text>
<text x="1865" y="776" textLength="255" lengthAdjust="spacingAndGlyphs">L4-1300 professional power amplifier</text>
<text x="1865" y="1071" textLength="255" lengthAdjust="spacingAndGlyphs">L4-1300 professional power amplifier</text>
<text x="1890" y="1179" textLength="230" lengthAdjust="spacingAndGlyphs">L900 professional power amplifier</text>
<text x="1890" y="1281" textLength="230" lengthAdjust="spacingAndGlyphs">L900 professional power amplifier</text>
<text x="1885" y="1387" textLength="239" lengthAdjust="spacingAndGlyphs">L4900 professional power amplifier</text>
<text x="1885" y="1497" textLength="239" lengthAdjust="spacingAndGlyphs">L4900 professional power amplifier</text>
<text x="1885" y="1597" textLength="239" lengthAdjust="spacingAndGlyphs">L4900 professional power amplifier</text>
<text x="1885" y="1698" textLength="239" lengthAdjust="spacingAndGlyphs">L4900 professional power amplifier</text>
<text x="1892" y="1825" textLength="238" lengthAdjust="spacingAndGlyphs">L1500 professional power amplifier</text>
<text x="1892" y="1952" textLength="238" lengthAdjust="spacingAndGlyphs">L1500 professional power amplifier</text>
<text x="1892" y="2071" textLength="238" lengthAdjust="spacingAndGlyphs">L1500 professional power amplifier</text>
<text x="1892" y="2200" textLength="238" lengthAdjust="spacingAndGlyphs">L1500 professional power amplifier</text>
</g>

<!-- ===== speakers ===== -->
<use href="#latop" x="2470" y="601" width="150" height="104"/>
<use href="#labx" x="2471" y="703" width="136" height="41"/>
<use href="#labx" x="2472" y="744" width="136" height="46"/>
<use href="#labx" x="2474" y="790" width="136" height="45"/>
<use href="#labx" x="2476" y="835" width="136" height="42"/>
<use href="#labx" x="2479" y="877" width="134" height="43"/>
<use href="#labx" x="2482" y="920" width="132" height="54"/>
<use href="#latop" x="2723" y="601" width="150" height="104"/>
<use href="#labx" x="2724" y="703" width="136" height="41"/>
<use href="#labx" x="2725" y="744" width="136" height="46"/>
<use href="#labx" x="2727" y="790" width="136" height="45"/>
<use href="#labx" x="2729" y="835" width="136" height="42"/>
<use href="#labx" x="2732" y="877" width="134" height="43"/>
<use href="#labx" x="2736" y="920" width="132" height="54"/>
<text class="cn" x="2542" y="581" font-size="22" textLength="212" lengthAdjust="spacingAndGlyphs">LA-310线阵系列全频音箱</text>
<text class="en" x="2426" y="598" font-size="14" textLength="330" lengthAdjust="spacingAndGlyphs">LA-310 line array series full frequency box</text>
<use href="#la310" x="2473" y="986" width="136" height="54"/>
<use href="#la310" x="2649" y="1002" width="137" height="54"/>
<use href="#la310" x="2822" y="1017" width="138" height="54"/>
<text class="cn" x="2203" y="985" font-size="23" textLength="130" lengthAdjust="spacingAndGlyphs">LA310全频音箱</text>
<text class="en" x="2206" y="999" font-size="14" textLength="199" lengthAdjust="spacingAndGlyphs">LA310 full frequency speaker</text>
<use href="#mon" x="2752" y="1076" width="78" height="47"/>
<use href="#mon" x="2891" y="1099" width="77" height="47"/>
<use href="#mon" x="2752" y="1162" width="78" height="47"/>
<use href="#mon" x="2891" y="1192" width="77" height="47"/>
<text class="cn" x="2209" y="1085" font-size="23" textLength="135" lengthAdjust="spacingAndGlyphs">LA-151返听音箱</text>
<text class="en" x="2206" y="1100" font-size="14" textLength="163" lengthAdjust="spacingAndGlyphs">LA-151 monitor speaker</text>
<text class="cn" x="2209" y="1178" font-size="23" textLength="135" lengthAdjust="spacingAndGlyphs">LA-151返听音箱</text>
<text class="en" x="2206" y="1193" font-size="14" textLength="163" lengthAdjust="spacingAndGlyphs">LA-151 monitor speaker</text>
<use href="#lip" x="2421" y="1250" width="40" height="62"/><use href="#lip" x="2581" y="1262" width="40" height="62"/><use href="#lip" x="2778" y="1276" width="40" height="62"/><use href="#lip" x="2918" y="1287" width="40" height="62"/>
<use href="#lip" x="2421" y="1353" width="40" height="62"/><use href="#lip" x="2581" y="1364" width="40" height="62"/><use href="#lip" x="2778" y="1377" width="40" height="62"/><use href="#lip" x="2918" y="1389" width="40" height="62"/>
<use href="#lip" x="2421" y="1455" width="40" height="62"/><use href="#lip" x="2581" y="1465" width="40" height="62"/><use href="#lip" x="2778" y="1479" width="40" height="62"/><use href="#lip" x="2918" y="1491" width="40" height="62"/>
<use href="#lip" x="2421" y="1557" width="40" height="62"/><use href="#lip" x="2581" y="1568" width="40" height="62"/><use href="#lip" x="2778" y="1581" width="40" height="62"/><use href="#lip" x="2918" y="1593" width="40" height="62"/>
<g class="cn" font-size="23">
<text x="2206" y="1289" textLength="151" lengthAdjust="spacingAndGlyphs">LD-6215台唇音箱</text>
<text x="2206" y="1391" textLength="151" lengthAdjust="spacingAndGlyphs">LD-6215台唇音箱</text>
<text x="2206" y="1492" textLength="151" lengthAdjust="spacingAndGlyphs">LD-6215台唇音箱</text>
<text x="2206" y="1594" textLength="151" lengthAdjust="spacingAndGlyphs">LD-6215台唇音箱</text>
</g>
<g class="en" font-size="14">
<text x="2206" y="1303" textLength="175" lengthAdjust="spacingAndGlyphs">LD-6215 table lip speaker</text>
<text x="2206" y="1405" textLength="175" lengthAdjust="spacingAndGlyphs">LD-6215 table lip speaker</text>
<text x="2206" y="1506" textLength="175" lengthAdjust="spacingAndGlyphs">LD-6215 table lip speaker</text>
<text x="2206" y="1608" textLength="175" lengthAdjust="spacingAndGlyphs">LD-6215 table lip speaker</text>
</g>
<use href="#sub" x="2693" y="1701" width="121" height="59"/><use href="#sub" x="2845" y="1731" width="121" height="59"/>
<use href="#sub" x="2688" y="1824" width="121" height="59"/><use href="#sub" x="2841" y="1866" width="120" height="59"/>
<use href="#sub" x="2693" y="1952" width="121" height="58"/><use href="#sub" x="2845" y="1982" width="121" height="58"/>
<use href="#sub" x="2688" y="2068" width="121" height="58"/><use href="#sub" x="2841" y="2102" width="120" height="58"/>
<g class="cn" font-size="23">
<text x="2209" y="1724" textLength="128" lengthAdjust="spacingAndGlyphs">LA-28低音音箱</text>
<text x="2209" y="1846" textLength="128" lengthAdjust="spacingAndGlyphs">LA-28低音音箱</text>
<text x="2209" y="1973" textLength="128" lengthAdjust="spacingAndGlyphs">LA-28低音音箱</text>
<text x="2209" y="2089" textLength="128" lengthAdjust="spacingAndGlyphs">LA-28低音音箱</text>
</g>
<g class="en" font-size="14">
<text x="2211" y="1739" textLength="116" lengthAdjust="spacingAndGlyphs">LA-28 subwoofer</text>
<text x="2211" y="1861" textLength="116" lengthAdjust="spacingAndGlyphs">LA-28 subwoofer</text>
<text x="2211" y="1988" textLength="116" lengthAdjust="spacingAndGlyphs">LA-28 subwoofer</text>
<text x="2211" y="2103" textLength="116" lengthAdjust="spacingAndGlyphs">LA-28 subwoofer</text>
</g>

<!-- legend -->
<line x1="1944" y1="2306" x2="2082" y2="2306" stroke="#e52421" stroke-width="4" stroke-dasharray="10 6"/>
<line x1="2219" y1="2306" x2="2359" y2="2306" stroke="#26963f" stroke-width="4"/>
<line x1="2489" y1="2306" x2="2629" y2="2306" stroke="#2d9bdb" stroke-width="4"/>
<line x1="2764" y1="2306" x2="2904" y2="2306" stroke="#7b4c9e" stroke-width="4"/>
<g class="cn" font-size="30">
<text x="2095" y="2316" textLength="91" lengthAdjust="spacingAndGlyphs">电源线</text>
<text x="2368" y="2316" textLength="92" lengthAdjust="spacingAndGlyphs">音频线</text>
<text x="2638" y="2316" textLength="92" lengthAdjust="spacingAndGlyphs">音箱线</text>
<text x="2913" y="2316" textLength="92" lengthAdjust="spacingAndGlyphs">同轴线</text>
</g>
<g class="en" font-size="20">
<text x="2079" y="2343" textLength="107" lengthAdjust="spacingAndGlyphs">power cord</text>
<text x="2346" y="2343" textLength="114" lengthAdjust="spacingAndGlyphs">Audio cable</text>
<text x="2606" y="2343" textLength="127" lengthAdjust="spacingAndGlyphs">Speaker wire</text>
<text x="2879" y="2343" textLength="131" lengthAdjust="spacingAndGlyphs">Coaxial cable</text>
</g>

<!-- footer -->
<rect x="0" y="2419" width="3401" height="96" fill="#d8d8d8"/>
<polygon points="3296,1737 3401,1689 3401,2515 3017,2515 3017,2418 3296,2418" fill="#4a67b1"/>
</svg>
</body></html>
